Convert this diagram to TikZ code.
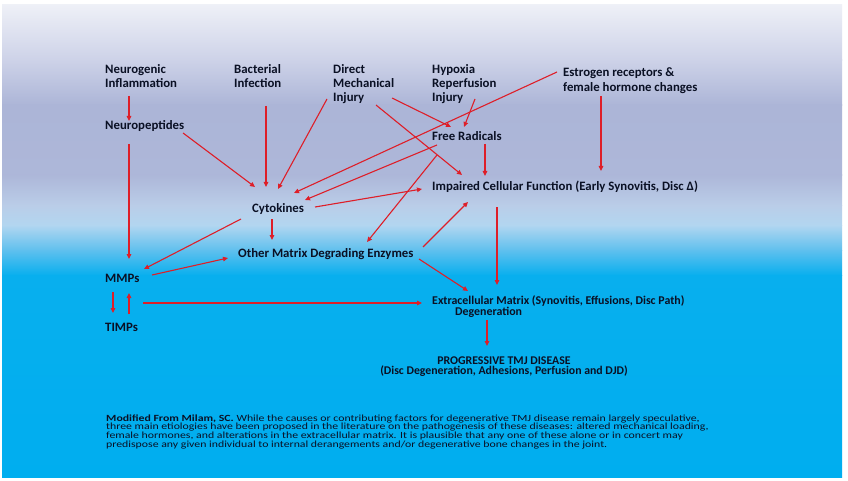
\documentclass[tikz,border=0pt]{standalone}
\usepackage{fontspec}
\usepackage{graphicx}
\setmainfont{Carlito}
\usetikzlibrary{positioning,calc,arrows.meta}

\definecolor{arrred}{RGB}{222,30,40}
\definecolor{txtnavy}{RGB}{10,16,36}
\definecolor{bgA}{RGB}{238,240,247}
\definecolor{bgB}{RGB}{205,210,232}
\definecolor{bgC}{RGB}{172,181,215}
\definecolor{bgD}{RGB}{173,183,217}
\definecolor{bgE}{RGB}{186,205,232}
\definecolor{bgF}{RGB}{178,214,240}
\definecolor{bgG}{RGB}{95,192,238}
\definecolor{bgH}{RGB}{8,175,238}
\definecolor{bgI}{RGB}{0,174,239}

\newcommand\tightlines{\lineskiplimit -50pt\relax}

\tikzset{
  lbl/.style={anchor=base west, inner sep=0pt, align=left, text=txtnavy,
    font=\bfseries\fontsize{12.8}{14}\selectfont\tightlines},
  arr/.style={draw=arrred, line width=1.1pt, -{Triangle[length=5pt,width=4.5pt]}}
}

\begin{document}
\begin{tikzpicture}[x=1pt,y=-1pt]

  \useasboundingbox (0,0) rectangle (848,481);
  \fill[white] (0,0) rectangle (848,481);
  \shade[top color=bgA, bottom color=bgB] (2,5) rectangle (842,60.5);
  \shade[top color=bgB, bottom color=bgC] (2,60) rectangle (842,105.5);
  \shade[top color=bgC, bottom color=bgD] (2,105) rectangle (842,175.5);
  \shade[top color=bgD, bottom color=bgE] (2,175) rectangle (842,205.5);
  \shade[top color=bgE, bottom color=bgF] (2,205) rectangle (842,225.5);
  \shade[top color=bgF, bottom color=bgG] (2,225) rectangle (842,250.5);
  \shade[top color=bgG, bottom color=bgH] (2,250) rectangle (842,275.5);
  \shade[top color=bgH, bottom color=bgI] (2,275) rectangle (842,477);

  \node (NI) [lbl] at (105,88) {Neurogenic\\Inflammation};
  \node (BI) [lbl] at (234,88) {Bacterial\\Infection};
  \node (DMI) [lbl] at (333,102) {Direct\\Mechanical\\Injury};
  \node (HRI) [lbl] at (432,102) {Hypoxia\\Reperfusion\\Injury};
  \node (ER) [lbl, font=\bfseries\fontsize{12.8}{15.5}\selectfont\tightlines] at (563,92) {Estrogen receptors \&\\female hormone changes};
  \node (NP) [lbl] at (105,130) {Neuropeptides};
  \node (FR) [lbl] at (432,140.5) {Free Radicals};
  \node (ICF) [lbl] at (432,191) {Impaired Cellular Function (Early Synovitis, Disc Δ)};
  \node (CY) [lbl] at (252,212) {Cytokines};
  \node (OMDE) [lbl] at (238,257) {Other Matrix Degrading Enzymes};
  \node (MMP) [lbl] at (105,282) {MMPs};
  \node (TIMP) [lbl] at (105,331) {TIMPs};
  \node (ECM) [lbl, font=\bfseries\fontsize{11.9}{10.8}\selectfont\tightlines] at (432,315.5)
    {Extracellular Matrix (Synovitis, Effusions, Disc Path)\\\hspace*{23pt}Degeneration};
  \node (PTD) [lbl, anchor=base, align=center, font=\bfseries\fontsize{11.8}{10.5}\selectfont\tightlines] at (504,374.5)
    {PROGRESSIVE TMJ DISEASE\\(Disc Degeneration, Adhesions, Perfusion and DJD)};
  \node (MOD) [lbl, font=\fontsize{11.8}{10.9}\selectfont\tightlines] at (106,421)
    {\scalebox{1}[0.8]{\vtop{\hbox{\textbf{Modified From Milam, SC.} While the causes or contributing factors for degenerative TMJ disease remain largely speculative,}
    \hbox{three main etiologies have been proposed in the literature on the pathogenesis of these diseases: altered mechanical loading,}
    \hbox{female hormones, and alterations in the extracellular matrix. It is plausible that any one of these alone or in concert may}
    \hbox{predispose any given individual to internal derangements and/or degenerative bone changes in the joint.}}}};

  \draw [arr] ($(NI.base west)+(24,8)$) -- ($(NP.base west)+(24,-9)$);
  \draw [arr] ($(NP.base west)+(78,3)$) -- ($(CY.base west)+(3,-25)$);
  \draw [arr] ($(BI.base west)+(32,18)$) -- ($(CY.base west)+(14,-25)$);
  \draw [arr] ($(DMI.base west)+(-6,-3)$) -- ($(CY.base west)+(26,-23)$);
  \draw [arr] ($(NP.base west)+(24,14)$) -- ($(MMP.base west)+(24,-23)$);
  \draw [arr] ($(ER.base west)+(-6,-20)$) -- ($(CY.base west)+(42,-19)$);
  \draw [arr] ($(FR.base west)+(5,4.5)$) -- ($(CY.base west)+(53,-12)$);
  \draw [arr] ($(CY.base west)+(63,-5)$) -- ($(ICF.base west)+(-10,-2)$);
  \draw [arr] ($(CY.base west)+(-11,7)$) -- ($(MMP.base west)+(39,-13)$);
  \draw [arr] ($(CY.base west)+(20,7)$) -- ($(OMDE.base west)+(34,-17)$);
  \draw [arr] ($(FR.base west)+(5,14.5)$) -- ($(OMDE.base west)+(129,-15)$);
  \draw [arr] ($(DMI.base west)+(59,-4)$) -- ($(FR.base west)+(19,-13.5)$);
  \draw [arr] ($(DMI.base west)+(43,3)$) -- ($(ICF.base west)+(30,-16)$);
  \draw [arr] ($(HRI.base west)+(43,-3)$) -- ($(FR.base west)+(32,-13.5)$);
  \draw [arr] ($(FR.base west)+(53,3.5)$) -- ($(ICF.base west)+(53,-15)$);
  \draw [arr] ($(ER.base west)+(38,4)$) -- ($(ICF.base west)+(169,-20)$);
  \draw [arr] ($(OMDE.base west)+(185,-10)$) -- ($(ICF.base west)+(36,11)$);
  \draw [arr] ($(ICF.base west)+(65,16)$) -- ($(ECM.base west)+(65,-30.5)$);
  \draw [arr] ($(OMDE.base west)+(181,2)$) -- ($(ECM.base west)+(36,-24.5)$);
  \draw [arr] ($(MMP.base west)+(47,-7)$) -- ($(OMDE.base west)+(-10,1)$);
  \draw [arr] ($(MMP.base west)+(8,10)$) -- ($(TIMP.base west)+(8,-18)$);
  \draw [arr] ($(TIMP.base west)+(24,-17)$) -- ($(MMP.base west)+(24,11)$);
  \draw [arr] ($(MMP.base west)+(38,21)$) -- ($(ECM.base west)+(-10,-12.5)$);
  \draw [arr] ($(ECM.base west)+(55,4.5)$) -- ($(PTD.base)+(-17,-28.5)$);

\end{tikzpicture}
\end{document}
